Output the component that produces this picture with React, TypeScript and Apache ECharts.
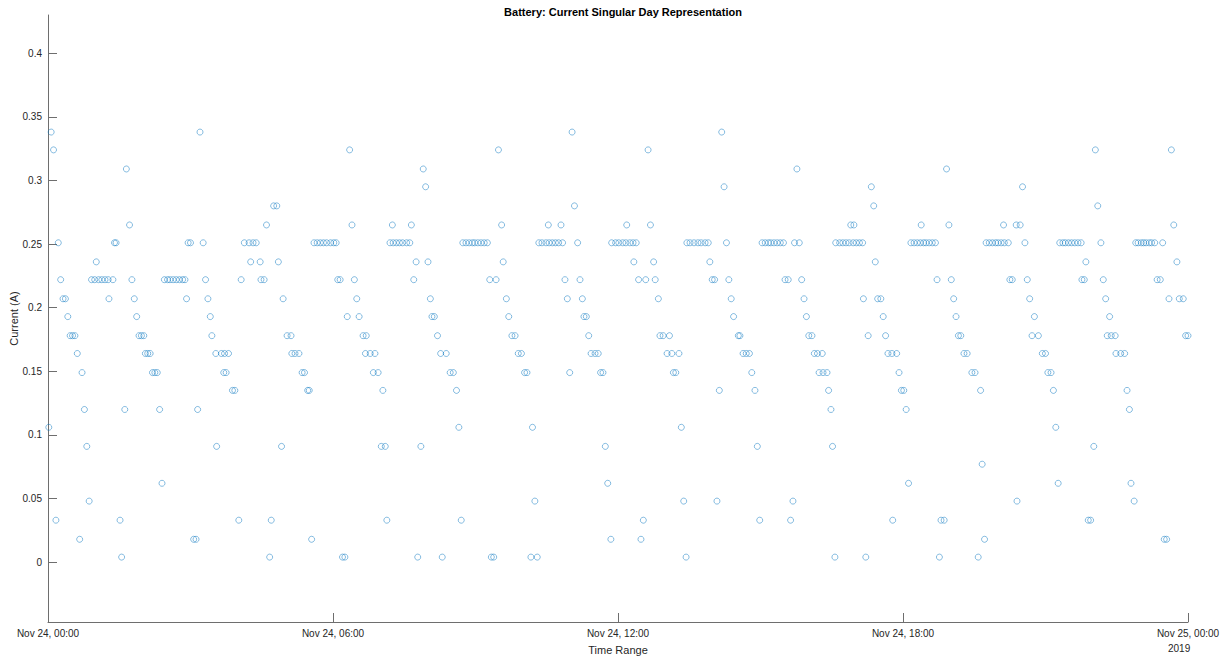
import React, { useEffect, useRef } from "react";
import * as echarts from "echarts";

// Axis tick labels
const xTickValues = [0, 360, 720, 1080, 1440];
const xTickLabels = ["Nov 24, 00:00", "Nov 24, 06:00", "Nov 24, 12:00", "Nov 24, 18:00", "Nov 25, 00:00"];
const yTickValues = [0, 0.05, 0.1, 0.15, 0.2, 0.25, 0.3, 0.35, 0.4];
const yearLabel = "2019";

// Sample time in minutes after midnight, Nov 24 2019
const sampleMinutes = [
  1, 4, 7, 10, 13, 16, 19, 22, 25, 28,
  31, 34, 37, 40, 43, 46, 49, 52, 55, 59,
  61, 64, 68, 72, 76, 77, 82, 84, 86, 91,
  93, 97, 99, 103, 106, 109, 112, 115, 118, 121,
  123, 126, 129, 132, 135, 138, 141, 144,
  147, 151, 154, 158, 162, 166, 170, 173, 175, 177,
  180, 184, 187, 189, 192, 196, 199, 202, 205, 207,
  212, 213, 219, 222, 223, 225, 228, 233, 236, 241,
  244, 248, 254, 256, 259, 263, 268, 269, 273, 276,
  280, 282, 285, 289, 291,
  295, 297, 302, 307, 308, 312, 317, 321, 324, 328,
  330, 333, 336, 340, 344, 348, 352, 357, 361, 364,
  366, 369, 372, 375, 378, 381, 384, 387, 390, 393,
  398, 401, 402, 407, 411, 413, 417, 421, 423, 426,
  428,
  432, 435, 436, 440, 444, 448, 453, 457, 459, 462,
  465, 467, 471, 474, 477, 480, 483, 485, 488, 492,
  496, 498, 503, 508, 512, 516, 519, 522, 524, 528,
  532, 536, 539, 543, 547, 551, 555, 558, 560, 563,
  566, 569, 573, 575,
  579, 582, 586, 590, 594, 598, 602, 605, 610, 612,
  615, 618, 620, 624, 629, 632, 633, 637, 641, 645,
  648, 650, 653, 656, 659, 662, 665, 669, 672, 675,
  677, 680, 683, 686, 691, 695, 698, 701, 704, 707,
  711, 712, 717, 721, 726, 730, 735, 739, 743,
  731, 740, 746, 749, 752, 755, 758, 761, 765, 767,
  771, 773, 777, 782, 785, 788, 790, 793, 797, 800,
  803, 806, 807, 811, 816, 821, 825, 830, 834, 836,
  839, 842, 845, 848, 851, 854, 857, 860, 863, 866,
  872, 874,
  878, 882, 886, 889, 893, 896, 899, 902, 906, 910,
  913, 917, 921, 925, 929, 931, 935, 938, 941, 943,
  946, 949, 952, 955, 958, 961, 965, 968, 972, 974,
  978, 979, 984, 986, 989, 991, 994, 995, 1000, 1004,
  1008, 1012, 1014, 1017, 1018, 1021, 1025, 1029,
  1030, 1033, 1036, 1040, 1043, 1045, 1048, 1052, 1055, 1058,
  1061, 1066, 1067, 1072, 1075, 1078, 1081, 1084, 1087, 1090,
  1094, 1098, 1102, 1103, 1106, 1109, 1113, 1117, 1121, 1123,
  1126, 1128, 1132, 1135, 1138, 1141, 1144, 1147, 1150, 1153,
  1157, 1161, 1167, 1171,
  1175, 1178, 1180, 1183, 1185, 1189, 1193, 1197, 1200, 1204,
  1207, 1208, 1213, 1215, 1218, 1223, 1224, 1228, 1231, 1234,
  1237, 1240, 1243, 1246, 1251, 1256, 1260, 1263, 1267, 1270,
  1273, 1276, 1278, 1282, 1285, 1289, 1293, 1297, 1301, 1305,
  1306, 1309, 1311, 1314, 1317,
  1321, 1323, 1326, 1330, 1333, 1336, 1338, 1341, 1343, 1348,
  1349, 1355, 1360, 1363, 1366, 1368, 1372, 1374, 1377, 1381,
  1384, 1387, 1391, 1394, 1398, 1401, 1405, 1408, 1410, 1413,
  1416, 1419, 1422, 1426, 1429, 1434, 1437, 1440,
];

// Battery current in amperes, one per sample above
const currentAmps = [
  0.106, 0.338, 0.324, 0.033, 0.251, 0.222, 0.207, 0.207, 0.193, 0.178,
  0.178, 0.178, 0.164, 0.018, 0.149, 0.120, 0.091, 0.048, 0.222, 0.222,
  0.236, 0.222, 0.222, 0.222, 0.222, 0.207, 0.222, 0.251, 0.251, 0.033,
  0.004, 0.120, 0.309, 0.265, 0.222, 0.207, 0.193, 0.178, 0.178, 0.178,
  0.164, 0.164, 0.164, 0.149, 0.149, 0.149, 0.120, 0.062,
  0.222, 0.222, 0.222, 0.222, 0.222, 0.222, 0.222, 0.222, 0.207, 0.251,
  0.251, 0.018, 0.018, 0.120, 0.338, 0.251, 0.222, 0.207, 0.193, 0.178,
  0.164, 0.091, 0.164, 0.149, 0.164, 0.149, 0.164, 0.135, 0.135, 0.033,
  0.222, 0.251, 0.251, 0.236, 0.251, 0.251, 0.236, 0.222, 0.222, 0.265,
  0.004, 0.033, 0.280, 0.280, 0.236,
  0.091, 0.207, 0.178, 0.178, 0.164, 0.164, 0.164, 0.149, 0.149, 0.135,
  0.135, 0.018, 0.251, 0.251, 0.251, 0.251, 0.251, 0.251, 0.251, 0.251,
  0.222, 0.222, 0.004, 0.004, 0.193, 0.324, 0.265, 0.222, 0.207, 0.193,
  0.178, 0.164, 0.178, 0.164, 0.149, 0.164, 0.149, 0.091, 0.135, 0.091,
  0.033,
  0.251, 0.265, 0.251, 0.251, 0.251, 0.251, 0.251, 0.251, 0.265, 0.222,
  0.236, 0.004, 0.091, 0.309, 0.295, 0.236, 0.207, 0.193, 0.193, 0.178,
  0.164, 0.004, 0.164, 0.149, 0.149, 0.135, 0.106, 0.033, 0.251, 0.251,
  0.251, 0.251, 0.251, 0.251, 0.251, 0.251, 0.251, 0.222, 0.004, 0.004,
  0.222, 0.324, 0.265, 0.236,
  0.207, 0.193, 0.178, 0.178, 0.164, 0.164, 0.149, 0.149, 0.004, 0.106,
  0.048, 0.004, 0.251, 0.251, 0.251, 0.265, 0.251, 0.251, 0.251, 0.251,
  0.265, 0.251, 0.222, 0.207, 0.149, 0.338, 0.280, 0.251, 0.222, 0.207,
  0.193, 0.193, 0.178, 0.164, 0.164, 0.164, 0.149, 0.149, 0.091, 0.062,
  0.018, 0.251, 0.251, 0.251, 0.251, 0.251, 0.251, 0.251, 0.251,
  0.265, 0.236, 0.222, 0.018, 0.033, 0.222, 0.324, 0.265, 0.236, 0.222,
  0.207, 0.178, 0.178, 0.164, 0.178, 0.164, 0.149, 0.149, 0.164, 0.106,
  0.048, 0.004, 0.251, 0.251, 0.251, 0.251, 0.251, 0.251, 0.251, 0.236,
  0.222, 0.222, 0.048, 0.135, 0.338, 0.295, 0.251, 0.222, 0.207, 0.193,
  0.178, 0.178,
  0.164, 0.164, 0.164, 0.149, 0.135, 0.091, 0.033, 0.251, 0.251, 0.251,
  0.251, 0.251, 0.251, 0.251, 0.251, 0.222, 0.222, 0.033, 0.048, 0.251,
  0.309, 0.251, 0.222, 0.207, 0.193, 0.178, 0.178, 0.164, 0.164, 0.149,
  0.164, 0.149, 0.149, 0.135, 0.120, 0.091, 0.004, 0.251, 0.251, 0.251,
  0.251, 0.251, 0.265, 0.251, 0.265, 0.251, 0.251, 0.251,
  0.207, 0.004, 0.178, 0.295, 0.280, 0.236, 0.207, 0.207, 0.193, 0.178,
  0.164, 0.164, 0.033, 0.164, 0.149, 0.135, 0.135, 0.120, 0.062, 0.251,
  0.251, 0.251, 0.251, 0.265, 0.251, 0.251, 0.251, 0.251, 0.251, 0.222,
  0.004, 0.033, 0.033, 0.309, 0.265, 0.222, 0.207, 0.193, 0.178, 0.178,
  0.164, 0.164, 0.149, 0.149,
  0.004, 0.135, 0.077, 0.018, 0.251, 0.251, 0.251, 0.251, 0.251, 0.251,
  0.265, 0.251, 0.251, 0.222, 0.222, 0.265, 0.048, 0.265, 0.295, 0.251,
  0.222, 0.207, 0.178, 0.193, 0.178, 0.164, 0.164, 0.149, 0.149, 0.135,
  0.106, 0.062, 0.251, 0.251, 0.251, 0.251, 0.251, 0.251, 0.251, 0.251,
  0.222, 0.222, 0.236, 0.033, 0.033,
  0.091, 0.324, 0.280, 0.251, 0.222, 0.207, 0.178, 0.193, 0.178, 0.178,
  0.164, 0.164, 0.164, 0.135, 0.120, 0.062, 0.048, 0.251, 0.251, 0.251,
  0.251, 0.251, 0.251, 0.251, 0.251, 0.222, 0.222, 0.251, 0.018, 0.018,
  0.207, 0.324, 0.265, 0.236, 0.207, 0.207, 0.178, 0.178,
];

const FONT = "'Liberation Sans', Arial, Helvetica, sans-serif";
const AXIS_COLOR = "#6e6e6e";
const TEXT_COLOR = "#262626";
const MARKER_COLOR = "#0072BD";

export default function App() {
  const ref = useRef<HTMLDivElement>(null);

  useEffect(() => {
    if (!ref.current) return;
    const chart = echarts.init(ref.current, undefined, { renderer: "svg" });
    const points = sampleMinutes.map((m, i) => [m, currentAmps[i]]);

    chart.setOption({
      animation: false,
      backgroundColor: "#ffffff",
      textStyle: { fontFamily: FONT },
      title: {
        text: "Battery: Current Singular Day Representation",
        left: 618,
        top: 1,
        textAlign: "center",
        textStyle: { fontFamily: FONT, fontSize: 11, fontWeight: "bold", color: "#000000" },
      },
      grid: { left: 48, right: 44, top: 15, bottom: 35, containLabel: false, outerBoundsMode: "none" },
      xAxis: {
        type: "value",
        min: 0,
        max: 1440,
        interval: 360,
        name: "Time Range",
        nameLocation: "middle",
        nameGap: 22,
        nameMoveOverlap: false,
        nameTextStyle: { fontFamily: FONT, fontSize: 11, color: TEXT_COLOR },
        axisLine: { show: true, onZero: false, lineStyle: { color: AXIS_COLOR, width: 1 } },
        axisTick: { show: true, inside: true, length: 9, lineStyle: { color: AXIS_COLOR } },
        axisLabel: {
          show: true,
          margin: 6,
          fontFamily: FONT,
          fontSize: 10,
          color: TEXT_COLOR,
          formatter: (v: number) => {
            const i = xTickValues.indexOf(v);
            return i >= 0 ? xTickLabels[i] : "";
          },
        },
        splitLine: { show: false },
      },
      yAxis: {
        type: "value",
        min: -0.047,
        max: 0.43,
        name: "Current (A)",
        nameLocation: "middle",
        nameGap: 29,
        nameMoveOverlap: false,
        nameTextStyle: { fontFamily: FONT, fontSize: 11, color: TEXT_COLOR },
        axisLine: { show: true, onZero: false, lineStyle: { color: AXIS_COLOR, width: 1 } },
        axisTick: { show: true, inside: true, length: 9, customValues: yTickValues, lineStyle: { color: AXIS_COLOR } },
        axisLabel: {
          show: true,
          margin: 6,
          fontFamily: FONT,
          fontSize: 10,
          color: TEXT_COLOR,
          customValues: yTickValues,
          formatter: (v: number) => String(parseFloat(v.toFixed(2))),
        },
        splitLine: { show: false },
      },
      graphic: [
        {
          type: "text",
          left: 1168,
          top: 643,
          style: { text: yearLabel, fontFamily: FONT, fontSize: 10, fill: TEXT_COLOR },
        },
      ],
      series: [
        {
          type: "scatter",
          data: points,
          symbol: "circle",
          symbolSize: 6,
          itemStyle: { color: "rgba(0,0,0,0)", borderColor: MARKER_COLOR, borderWidth: 0.6 },
          emphasis: { disabled: true },
        },
      ],
    });

    return () => chart.dispose();
  }, []);

  return (
    <div
      ref={ref}
      style={{ position: "fixed", left: 0, top: 0, width: 1232, height: 657, background: "#ffffff" }}
    />
  );
}
